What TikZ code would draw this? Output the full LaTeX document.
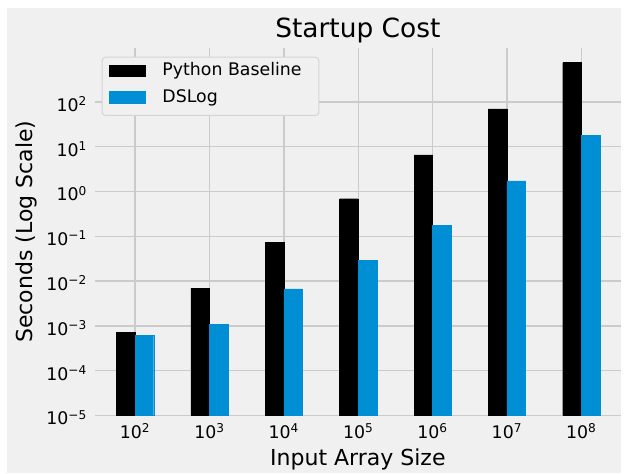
\documentclass[tikz,border=0pt]{standalone}
\usepackage{fontspec}
\setmainfont{DejaVu Sans}
\usepackage{pgfplots}
\usetikzlibrary{
    positioning,
    calc
}
\pgfplotsset{compat=1.18}

\definecolor{figbg}{HTML}{F0F0F0}
\definecolor{gridgray}{HTML}{CBCBCB}
\definecolor{dslogblue}{HTML}{008FD5}
\definecolor{legendedge}{HTML}{D4D4D4}

\newcommand{\tenpow}[1]{10\textsuperscript{#1}}

\begin{document}
\begin{tikzpicture}[
    legendbox/.style={rectangle, draw=legendedge, fill=figbg, rounded corners=2.5pt, line width=0.75pt, minimum width=162.5pt, minimum height=43.7pt, inner sep=0pt},
    swatch/.style={rectangle, minimum width=27.5pt, minimum height=9.4pt, inner sep=0pt},
    legendtext/.style={inner sep=0pt, font=\fontsize{13}{15}\selectfont},
]
\useasboundingbox (0,0) rectangle (468pt,355.5pt);
\fill[white] (0,0) rectangle (468pt,355.5pt);
\fill[figbg] (5.25pt,0.75pt) rectangle (465.5pt,349.5pt);

\begin{axis}[
    name=chart,
    at={(71.25pt,43.9pt)}, anchor=south west,
    scale only axis, width=394.3pt, height=275.6pt,
    ymode=log, log origin=infty,
    xmin=-0.54, xmax=6.53, ymin=1e-5, ymax=1596,
    ybar, bar width=0.25,
    axis background/.style={fill=figbg},
    axis line style={draw=none},
    tick style={draw=none}, major tick length=0pt,
    xmajorgrids, ymajorgrids,
    major grid style={gridgray, line width=1pt},
    xtick={0,...,6},
    xticklabels={\tenpow{2},\tenpow{3},\tenpow{4},\tenpow{5},\tenpow{6},\tenpow{7},\tenpow{8}},
    ytick={1e-5,1e-4,1e-3,1e-2,1e-1,1,10,100},
    yticklabels={\tenpow{−5},\tenpow{−4},\tenpow{−3},\tenpow{−2},\tenpow{−1},\tenpow{0},\tenpow{1},\tenpow{2}},
    minor ytick={},
    ticklabel style={font=\fontsize{13}{15}\selectfont, inner sep=0pt},
    xticklabel style={anchor=base, yshift=-17.1pt},
    yticklabel style={anchor=base east, xshift=-5.8pt, yshift=-7.1pt},
    title={Startup Cost},
    title style={at={(0.5,1)}, anchor=base, yshift=1.5pt, inner sep=0pt, font=\fontsize{19.8}{23}\selectfont},
    xlabel={Input Array Size},
    xlabel style={at={(0.5,0)}, anchor=base, yshift=-37.5pt, inner sep=0pt, font=\fontsize{16.5}{19}\selectfont},
    ylabel={Seconds (Log Scale)},
    ylabel style={at={(-0.13,0.5)}, anchor=center, inner sep=0pt, font=\fontsize{16.5}{19}\selectfont},
]
\addplot[fill=black, draw=black, line width=0.3pt, bar shift=-0.125]
    coordinates {(0,7.2e-4) (1,6.9e-3) (2,0.0734) (3,0.69) (4,6.6) (5,69.5) (6,750)};
\addplot[fill=dslogblue, draw=dslogblue, line width=0.3pt, bar shift=0.125]
    coordinates {(0,6.2e-4) (1,1.09e-3) (2,6.7e-3) (3,0.0291) (4,0.176) (5,1.72) (6,17.6)};
\end{axis}

% Legend
\node[legendbox, anchor=north west] (legend) at ($(chart.north west)+(5pt,-6.5pt)$) {};
\node[swatch, fill=black, anchor=north west] (swPy) at ($(legend.north west)+(5.5pt,-5.7pt)$) {};
\node[swatch, fill=dslogblue, below=10.4pt of swPy] (swDS) {};
\node[legendtext, right=12pt of swPy] (txtPy) {Python Baseline};
\node[legendtext, right=12pt of swDS] (txtDS) {DSLog};
\end{tikzpicture}
\end{document}
